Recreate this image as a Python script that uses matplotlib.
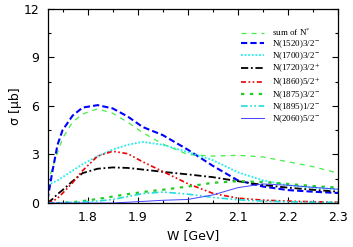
import matplotlib
matplotlib.use('Agg')
import matplotlib.pyplot as plt
from matplotlib.ticker import MultipleLocator

# energy grid (GeV) and cross sections (microbarn)
w = [1.72, 1.73, 1.74, 1.75, 1.77, 1.79, 1.82, 1.85, 1.88, 1.91, 1.95, 2.0, 2.05, 2.1, 2.15, 2.2, 2.25, 2.3]

sum_all = [1.2, 2.2, 3.1, 4.0, 5.0, 5.5, 5.82, 5.55, 5.0, 4.35, 3.65, 3.0, 2.9, 2.95, 2.85, 2.55, 2.25, 1.85]
n1520 = [0.2, 2.0, 3.6, 4.5, 5.4, 5.9, 6.05, 5.85, 5.35, 4.7, 4.2, 3.3, 2.3, 1.4, 1.02, 0.8, 0.7, 0.62]
n1700 = [1.1, 1.25, 1.4, 1.6, 2.0, 2.4, 2.9, 3.3, 3.6, 3.78, 3.6, 3.15, 2.65, 1.9, 1.4, 1.1, 0.95, 0.85]
n1720 = [0.0, 0.25, 0.55, 0.8, 1.35, 1.85, 2.12, 2.2, 2.17, 2.07, 1.93, 1.77, 1.6, 1.35, 1.12, 0.95, 0.82, 0.7]
n1860 = [0.0, 0.1, 0.3, 0.6, 1.25, 2.0, 2.9, 3.2, 3.05, 2.55, 1.95, 1.2, 0.6, 0.3, 0.18, 0.12, 0.08, 0.05]
n1875 = [0.0, 0.0, 0.0, 0.02, 0.05, 0.12, 0.25, 0.4, 0.55, 0.68, 0.82, 1.02, 1.25, 1.35, 1.3, 1.18, 1.05, 0.95]
n1895 = [0.0, 0.0, 0.01, 0.02, 0.04, 0.07, 0.12, 0.22, 0.4, 0.58, 0.68, 0.55, 0.35, 0.2, 0.12, 0.08, 0.05, 0.04]
n2060 = [0.0, 0.0, 0.0, 0.0, 0.0, 0.0, 0.0, 0.0, 0.05, 0.1, 0.17, 0.22, 0.5, 0.95, 1.18, 1.1, 0.97, 0.85]

plt.rcParams['mathtext.fontset'] = 'stix'

fig = plt.figure(figsize=(3.53, 2.47), dpi=100)
ax = fig.add_axes([0.1346, 0.178, 0.823, 0.786])

ax.plot(w, sum_all, color='#44ee44', linestyle=(0, (4, 4)), linewidth=0.9, label=r'sum of N$^{*}$')
ax.plot(w, n1520, color='#0000ff', linestyle=(0, (3, 1.5)), linewidth=1.5, label=r'N(1520)3/2$^{-}$')
ax.plot(w, n1700, color='#22eeee', linestyle=(0, (1, 1)), linewidth=1.3, label=r'N(1700)3/2$^{-}$')
ax.plot(w, n1720, color='black', linestyle=(0, (4, 1.5, 1, 1.5)), linewidth=1.3, label=r'N(1720)3/2$^{+}$')
ax.plot(w, n1860, color='#ee0000', linestyle=(0, (3, 1.5, 1, 1.5, 1, 1.5)), linewidth=1.2, label=r'N(1860)5/2$^{+}$')
ax.plot(w, n1875, color='#22cc22', linestyle=(0, (1.5, 2.5)), linewidth=1.6, label=r'N(1875)3/2$^{-}$')
ax.plot(w, n1895, color='#22dddd', linestyle=(0, (4, 1.5, 1, 1.5, 1, 1.5)), linewidth=1.2, label=r'N(1895)1/2$^{-}$')
ax.plot(w, n2060, color='#4444ff', linestyle='-', linewidth=0.7, label=r'N(2060)5/2$^{-}$')

ax.set_xlim(1.72, 2.3)
ax.set_ylim(0, 12)
ax.xaxis.set_major_locator(MultipleLocator(0.1))
ax.xaxis.set_minor_locator(MultipleLocator(0.05))
ax.yaxis.set_major_locator(MultipleLocator(3))
ax.yaxis.set_minor_locator(MultipleLocator(1.5))
ax.set_xticks([1.8, 1.9, 2.0, 2.1, 2.2, 2.3])
ax.set_xticklabels(['1.8', '1.9', '2', '2.1', '2.2', '2.3'])
ax.tick_params(which='both', direction='in', top=True, right=True, labelsize=9, width=0.8)
ax.tick_params(which='major', length=4, pad=6)
ax.tick_params(which='minor', length=2)
for s in ax.spines.values():
    s.set_linewidth(0.9)

ax.set_xlabel('W [GeV]', fontsize=9, labelpad=3)
ax.set_ylabel('σ [μb]', fontsize=9, labelpad=1)

ax.legend(loc='upper left', bbox_to_anchor=(0.665, 0.91), frameon=False,
          prop={'family': 'Liberation Serif', 'size': 6.5}, handlelength=2.6,
          handletextpad=0.9, labelspacing=0.05, borderpad=0, borderaxespad=0)

fig.savefig('out.png', dpi=100)
